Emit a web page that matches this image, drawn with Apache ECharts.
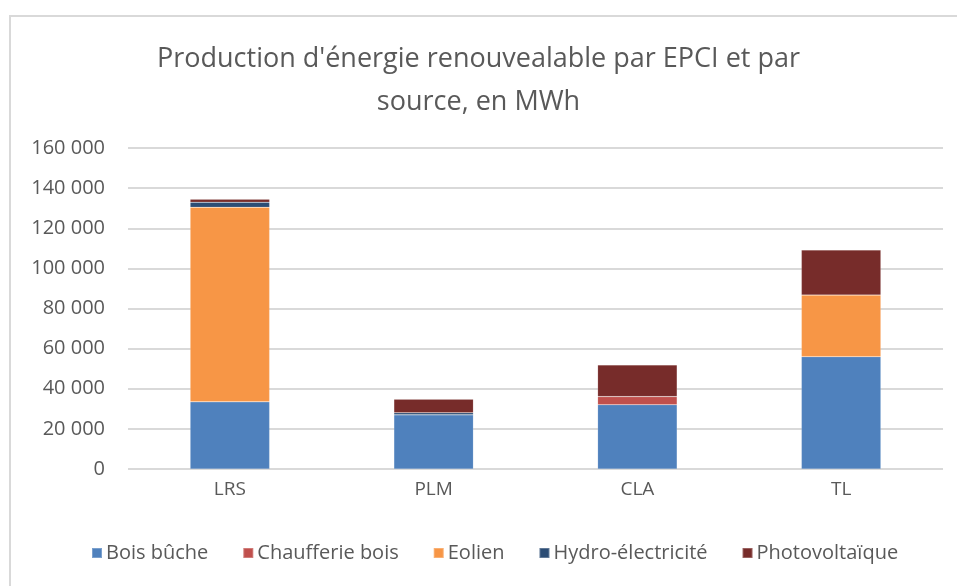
<!DOCTYPE html>
<html>
<head>
<meta charset="utf-8">
<script src="https://cdn.jsdelivr.net/npm/echarts@6/dist/echarts.min.js"></script>
<style>
  html, body { margin: 0; padding: 0; background: #fff; }
  #chart { width: 957px; height: 586px; }
</style>
</head>
<body>
<div id="chart"></div>
<script>
// EPCI and source data, in MWh
const epci = ['LRS', 'PLM', 'CLA', 'TL'];
const boisBuche = [33500, 27000, 32000, 56000];
const chaufferieBois = [0, 0, 4100, 0];
const eolien = [97000, 0, 0, 30700];
const hydro = [2500, 1000, 0, 0];
const photovoltaique = [1500, 6800, 15800, 22400];

const colors = ['#4f81bd', '#c0504d', '#f79646', '#2c4d75', '#772c2a'];
const font = 'Open Sans';

var chartDom = document.getElementById('chart');
var myChart = echarts.init(chartDom);

function fmt(v) {
  return String(v).replace(/\B(?=(\d{3})+(?!\d))/g, ' ');
}

function serie(name, data) {
  return {
    name: name,
    type: 'bar',
    stack: 'total',
    barWidth: '39%',
    data: data,
    itemStyle: { borderColor: 'rgba(255,255,255,0.25)', borderWidth: 0.5 }
  };
}

var option = {
  animation: false,
  color: colors,
  textStyle: { fontFamily: font },
  graphic: [{
    type: 'rect',
    shape: { x: 10, y: 16, width: 1000, height: 700 },
    style: { fill: 'none', stroke: '#d9d9d9', lineWidth: 2 },
    silent: true
  }],
  title: {
    text: "Production d'énergie renouvealable par EPCI et par\nsource, en MWh",
    left: 'center',
    top: 33,
    textStyle: {
      fontFamily: font,
      fontSize: 27,
      fontWeight: 'normal',
      color: '#595959',
      lineHeight: 43
    }
  },
  legend: {
    bottom: 18,
    left: 86,
    itemWidth: 10,
    itemHeight: 10,
    itemGap: 34,
    icon: 'rect',
    textStyle: { fontFamily: font, fontSize: 20, color: '#595959', padding: [0, 0, 0, -1] }
  },
  grid: {
    left: 128,
    right: 14,
    top: 148,
    bottom: 117
  },
  xAxis: {
    type: 'category',
    data: epci,
    axisLine: { show: false },
    axisTick: { show: false },
    axisLabel: { fontSize: 19, color: '#595959', margin: 11 }
  },
  yAxis: {
    type: 'value',
    min: 0,
    max: 160000,
    interval: 20000,
    axisLine: { show: false },
    axisTick: { show: false },
    splitLine: { lineStyle: { color: '#d9d9d9', width: 2 } },
    axisLabel: { fontSize: 20, color: '#595959', margin: 23, formatter: fmt }
  },
  series: [
    serie('Bois bûche', boisBuche),
    serie('Chaufferie bois', chaufferieBois),
    serie('Eolien', eolien),
    serie('Hydro-électricité', hydro),
    serie('Photovoltaïque', photovoltaique)
  ]
};

option && myChart.setOption(option);
</script>
</body>
</html>
